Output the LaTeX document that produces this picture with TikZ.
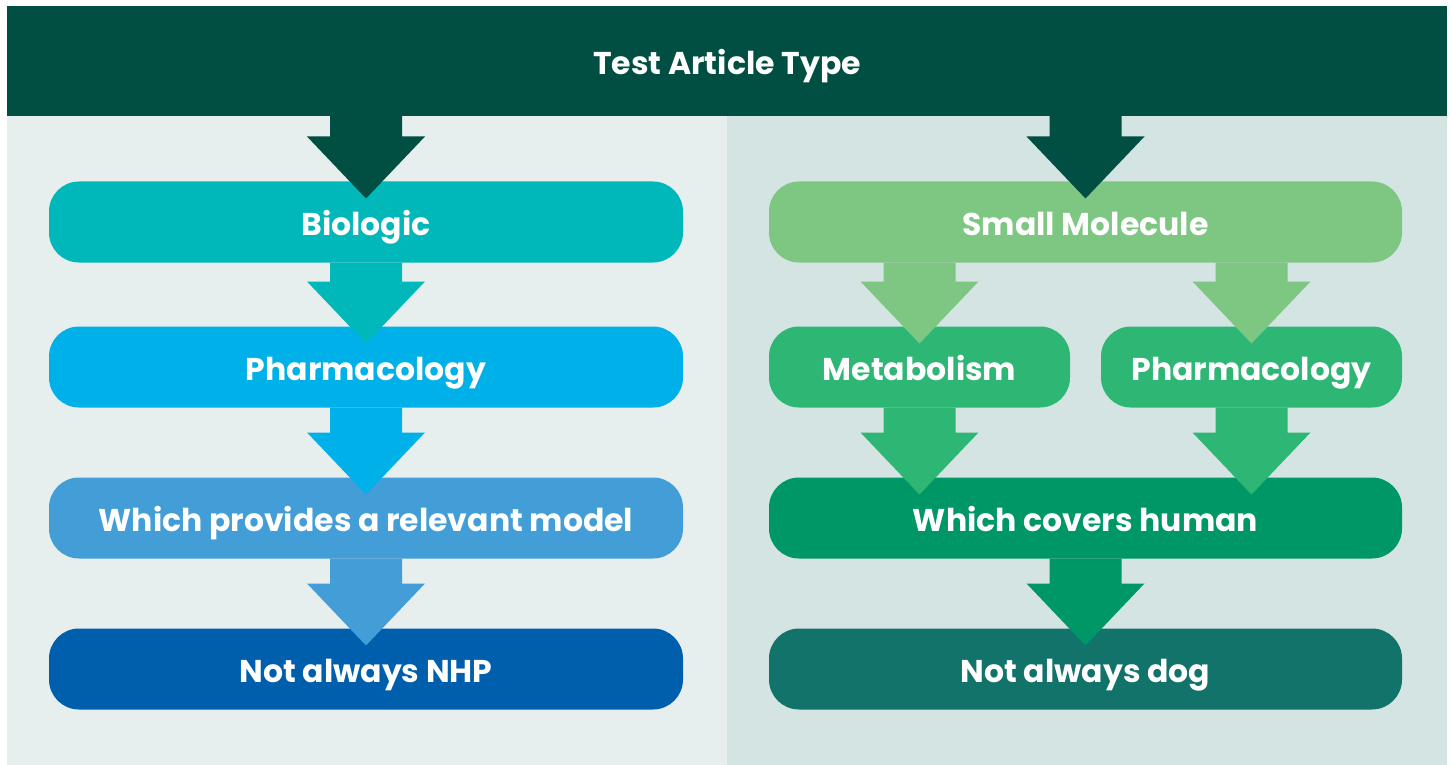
\documentclass[tikz,border=0pt]{standalone}
\usepackage{fontspec}
\setmainfont{Poppins}
\usetikzlibrary{positioning,calc}
\definecolor{banner}{HTML}{004F42}
\definecolor{leftbg}{HTML}{E6EFEE}
\definecolor{rightbg}{HTML}{D4E4E2}
\definecolor{bioc}{HTML}{00B8BA}
\definecolor{pharmc}{HTML}{00B1E9}
\definecolor{modelc}{HTML}{439DD6}
\definecolor{nhpc}{HTML}{005FAC}
\definecolor{smallc}{HTML}{7EC783}
\definecolor{metac}{HTML}{2DB674}
\definecolor{coverc}{HTML}{009767}
\definecolor{dogc}{HTML}{12736A}
\newcommand{\flowarrow}[3]{%
  \fill[#1] ($(#2)+(-36,0)$) -- ($(#3)+(-36,-45)$) -- ($(#3)+(-59,-45)$) -- ($(#3)+(0,17)$)
    -- ($(#3)+(59,-45)$) -- ($(#3)+(36,-45)$) -- ($(#2)+(36,0)$) -- cycle;}

\begin{document}
\begin{tikzpicture}[x=1pt,y=-1pt, node distance=64pt,
  every node/.style={rectangle,rounded corners=30pt,minimum height=81pt,inner sep=0pt,outer sep=0pt,
    text=white,font=\fontsize{31.5}{36}\selectfont\bfseries,text height=27pt,text depth=0pt}]
    \useasboundingbox (0,0) rectangle (1452,765);
    \fill[leftbg] (7,116) rectangle (727,765);
    \fill[rightbg] (727,116) rectangle (1447,765);
    \node[fill=banner,sharp corners,minimum width=1440pt,minimum height=110pt] (title) at (727,61) {Test Article Type};
    \node[fill=bioc,minimum width=634pt] (bio) at (366,222) {Biologic};
    \node[fill=pharmc,minimum width=634pt,below=of bio] (pharm) {Pharmacology};
    \node[fill=modelc,minimum width=634pt,below=70pt of pharm] (model) {Which provides a relevant model};
    \node[fill=nhpc,minimum width=634pt,below=70pt of model] (nhp) {Not always NHP};
    \node[fill=smallc,minimum width=633pt] (small) at (1085.5,222) {Small Molecule};
    \node[fill=metac,minimum width=301pt,below right=64pt and 0pt of small.south west] (meta) {Metabolism};
    \node[fill=metac,minimum width=301pt,below left=64pt and 0pt of small.south east] (pharmr) {Pharmacology};
    \node[fill=coverc,minimum width=633pt,below=215pt of small] (cover) {Which covers human};
    \node[fill=dogc,minimum width=633pt,below=70pt of cover] (dog) {Not always dog};
    \flowarrow{banner}{bio.north |- title.south}{bio.north}
    \flowarrow{banner}{small.north |- title.south}{small.north}
    \flowarrow{bioc}{bio.south}{pharm.north}
    \flowarrow{pharmc}{pharm.south}{model.north}
    \flowarrow{modelc}{model.south}{nhp.north}
    \flowarrow{smallc}{meta.north |- small.south}{meta.north}
    \flowarrow{smallc}{pharmr.north |- small.south}{pharmr.north}
    \flowarrow{metac}{meta.south}{meta.south |- cover.north}
    \flowarrow{metac}{pharmr.south}{pharmr.south |- cover.north}
    \flowarrow{coverc}{cover.south}{dog.north}
\end{tikzpicture}
\end{document}
